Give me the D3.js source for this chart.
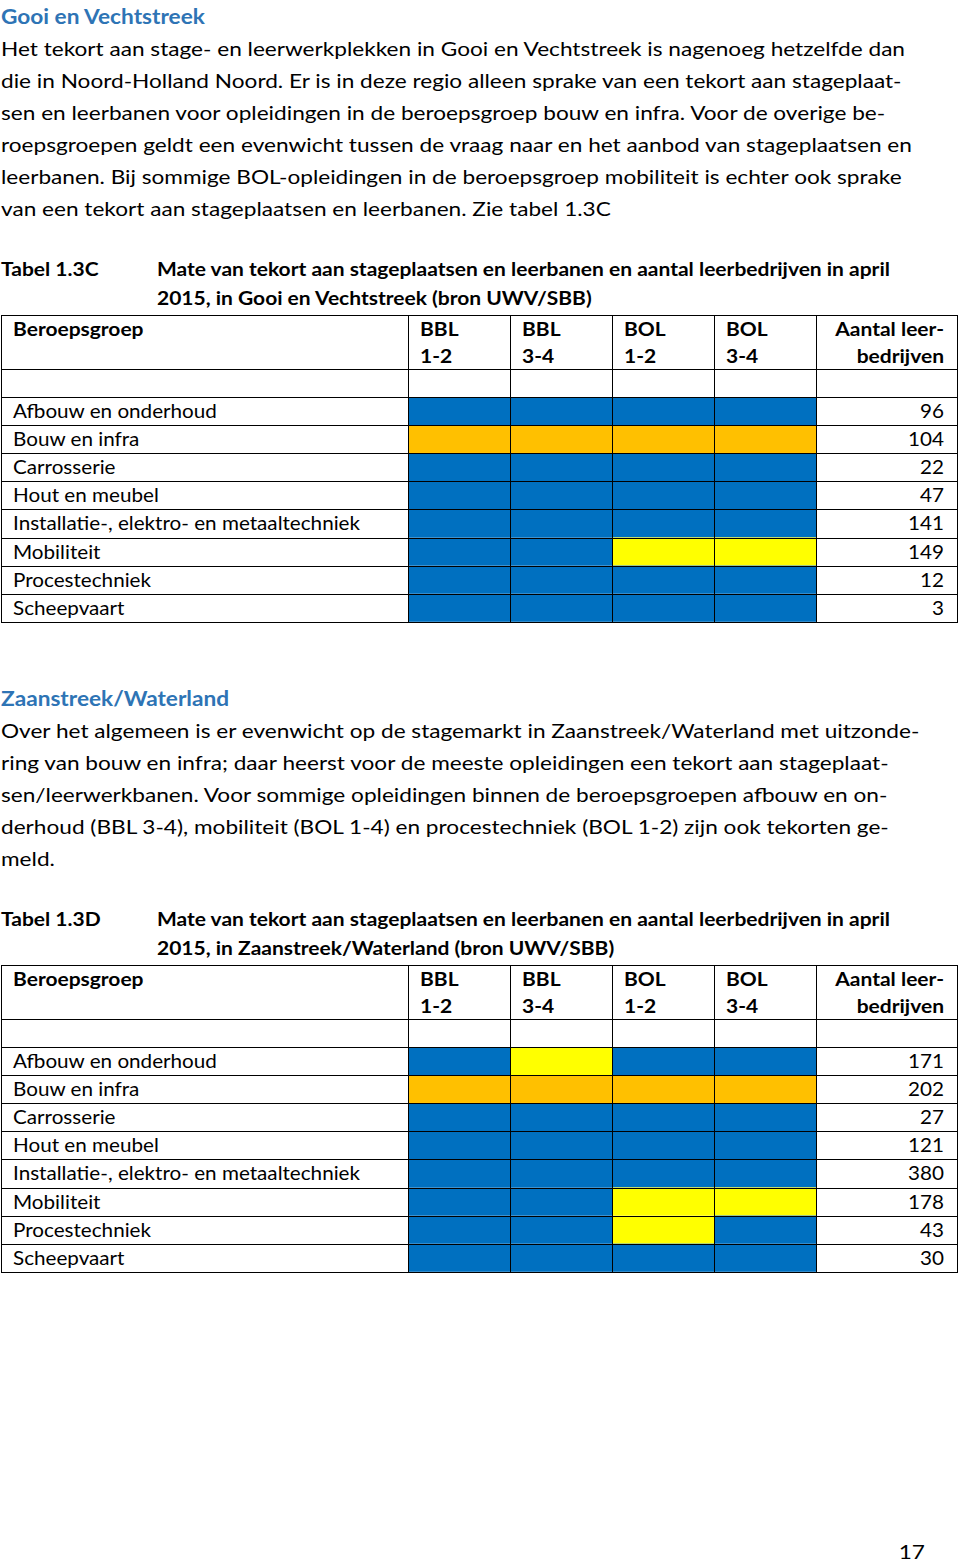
<!DOCTYPE html>
<html>
<head>
<meta charset="utf-8">
<script src="https://cdn.jsdelivr.net/npm/d3@7"></script>
<style>
  html, body { margin: 0; padding: 0; background: #fff; }
  svg text { font-family: Lato, "Open Sans", sans-serif; }
</style>
</head>
<body>
<div id="page"></div>
<script>
// ---- data ----
const beroepsgroepen = [
  "Afbouw en onderhoud",
  "Bouw en infra",
  "Carrosserie",
  "Hout en meubel",
  "Installatie-, elektro- en metaaltechniek",
  "Mobiliteit",
  "Procestechniek",
  "Scheepvaart"
]
const kolommen = ["BBL 1-2", "BBL 3-4", "BOL 1-2", "BOL 3-4"]
const aantalKop = ["Aantal leer-", "bedrijven"]

// e = evenwicht, t = tekort, s = tekort bij sommige opleidingen
const statusGooi = [
  ["e", "e", "e", "e"],
  ["t", "t", "t", "t"],
  ["e", "e", "e", "e"],
  ["e", "e", "e", "e"],
  ["e", "e", "e", "e"],
  ["e", "e", "s", "s"],
  ["e", "e", "e", "e"],
  ["e", "e", "e", "e"]
]
const aantalGooi = [96, 104, 22, 47, 141, 149, 12, 3]

const statusZaan = [
  ["e", "s", "e", "e"],
  ["t", "t", "t", "t"],
  ["e", "e", "e", "e"],
  ["e", "e", "e", "e"],
  ["e", "e", "e", "e"],
  ["e", "e", "s", "s"],
  ["e", "e", "s", "e"],
  ["e", "e", "e", "e"]
]
const aantalZaan = [171, 202, 27, 121, 380, 178, 43, 30]

const tekstGooi = [
  "Het tekort aan stage- en leerwerkplekken in Gooi en Vechtstreek is nagenoeg hetzelfde dan",
  "die in Noord-Holland Noord. Er is in deze regio alleen sprake van een tekort aan stageplaat-",
  "sen en leerbanen voor opleidingen in de beroepsgroep bouw en infra. Voor de overige be-",
  "roepsgroepen geldt een evenwicht tussen de vraag naar en het aanbod van stageplaatsen en",
  "leerbanen. Bij sommige BOL-opleidingen in de beroepsgroep mobiliteit is echter ook sprake",
  "van een tekort aan stageplaatsen en leerbanen. Zie tabel 1.3C"
]
const tekstZaan = [
  "Over het algemeen is er evenwicht op de stagemarkt in Zaanstreek/Waterland met uitzonde-",
  "ring van bouw en infra; daar heerst voor de meeste opleidingen een tekort aan stageplaat-",
  "sen/leerwerkbanen. Voor sommige opleidingen binnen de beroepsgroepen afbouw en on-",
  "derhoud (BBL 3-4), mobiliteit (BOL 1-4) en procestechniek (BOL 1-2) zijn ook tekorten ge-",
  "meld."
]
const onderschriftGooi = [
  "Mate van tekort aan stageplaatsen en leerbanen en aantal leerbedrijven in april",
  "2015, in Gooi en Vechtstreek (bron UWV/SBB)"
]
const onderschriftZaan = [
  "Mate van tekort aan stageplaatsen en leerbanen en aantal leerbedrijven in april",
  "2015, in Zaanstreek/Waterland (bron UWV/SBB)"
]

// ---- layout ----
const config = {
  width: 960,
  height: 1563,
  fontSize: 19,
  titleSize: 20.5,
  lineHeight: 32,
  titleColor: "#2E74B5",
  textColor: "#000",
  colors: { e: "#0070C0", t: "#FFC000", s: "#FFFF00" },
  table: { left: 1, right: 957, labelRight: 408, statusRight: 816, headerHeight: 54, emptyHeight: 28, rowHeight: 28.1 }
}

const svg = d3.select("#page").append("svg")
    .attr("width", config.width)
    .attr("height", config.height)
    .style("display", "block")

// stretch factors so the substitute font takes the width of the original
const stretch = { regular: 1, bold: 1, table: 1 }

function measure (str, bold) {
  const t = svg.append("text")
      .attr("font-size", config.fontSize)
      .attr("font-weight", bold ? "bold" : "normal")
      .text(str)
  const w = t.node().getComputedTextLength()
  t.remove()
  return w
}

function addText (g, str, x, y, opts = {}) {
  const k = stretch[opts.kind || (opts.bold ? "bold" : "regular")]
  const t = g.append("text")
      .attr("x", x)
      .attr("y", y)
      .attr("font-size", opts.size || config.fontSize)
      .attr("font-weight", opts.bold ? "bold" : "normal")
      .attr("fill", opts.color || config.textColor)
      .attr("text-anchor", opts.anchor || "start")
      .text(str)
  const w = t.node().getComputedTextLength()
  t.attr("textLength", w * k)
    .attr("lengthAdjust", "spacingAndGlyphs")
  return t
}

function drawSection (top, titel, tekst, tabelNaam, onderschrift, status, aantal, tableTop) {
  const g = svg.append("g")

  addText(g, titel, 1, top, { bold: true, color: config.titleColor, size: config.titleSize })
  tekst.forEach((line, i) => addText(g, line, 1, top + config.lineHeight * (i + 1)))

  const capY = tableTop - 39
  addText(g, tabelNaam, 1, capY, { bold: true })
  onderschrift.forEach((line, i) => addText(g, line, 157, capY + 29 * i, { bold: true }))

  drawTable(g, tableTop, status, aantal)
}

function drawTable (g, top, status, aantal) {
  const t = config.table
  const dataTop = top + t.headerHeight + t.emptyHeight
  const bottom = dataTop + t.rowHeight * beroepsgroepen.length

  const x = d3.scaleBand()
      .domain(kolommen)
      .range([t.labelRight, t.statusRight])

  const y = d3.scaleBand()
      .domain(beroepsgroepen)
      .range([dataTop, bottom])

  // cells
  beroepsgroepen.forEach((grp, r) => {
    g.selectAll(null)
      .data(status[r])
      .join("rect")
        .attr("x", (d, c) => x(kolommen[c]))
        .attr("y", y(grp))
        .attr("width", x.bandwidth())
        .attr("height", y.bandwidth())
        .attr("fill", d => config.colors[d])
  })

  // grid
  const grid = g.append("g")
      .attr("stroke", "#000")
      .attr("stroke-width", 1)
      .attr("shape-rendering", "crispEdges")

  const hLines = [top, top + t.headerHeight, dataTop].concat(beroepsgroepen.map(grp => y(grp) + y.bandwidth()))
  grid.selectAll("line.h")
    .data(hLines)
    .join("line")
      .attr("class", "h")
      .attr("x1", t.left)
      .attr("x2", t.right)
      .attr("y1", d => Math.round(d) + 0.5)
      .attr("y2", d => Math.round(d) + 0.5)

  const vLines = [t.left, t.labelRight].concat(kolommen.slice(1).map(k => x(k)), [t.statusRight, t.right])
  grid.selectAll("line.v")
    .data(vLines)
    .join("line")
      .attr("class", "v")
      .attr("x1", d => d + 0.5)
      .attr("x2", d => d + 0.5)
      .attr("y1", top)
      .attr("y2", bottom + 1)

  // header
  addText(g, "Beroepsgroep", t.left + 12, top + 21, { bold: true })
  kolommen.forEach(k => {
    const [soort, niveau] = k.split(" ")
    addText(g, soort, x(k) + 12, top + 21, { bold: true })
    addText(g, niveau, x(k) + 12, top + 48, { bold: true })
  })
  aantalKop.forEach((line, i) => addText(g, line, t.right - 13, top + 21 + 27 * i, { bold: true, anchor: "end" }))

  // rows
  beroepsgroepen.forEach((grp, r) => {
    const base = y(grp) + y.bandwidth() / 2 + 7
    addText(g, grp, t.left + 12, base, { kind: "table" })
    addText(g, d3.format("d")(aantal[r]), t.right - 13, base, { kind: "table", anchor: "end" })
  })
}

stretch.regular = 904 / measure(tekstGooi[0], false)
stretch.bold = 733 / measure(onderschriftGooi[0], true)
stretch.table = 347 / measure(beroepsgroepen[4], false)

drawSection(24, "Gooi en Vechtstreek", tekstGooi, "Tabel 1.3C", onderschriftGooi, statusGooi, aantalGooi, 315)
drawSection(706, "Zaanstreek/Waterland", tekstZaan, "Tabel 1.3D", onderschriftZaan, statusZaan, aantalZaan, 965)

addText(svg, "17", 925, 1559, { anchor: "end" })
</script>
</body>
</html>
